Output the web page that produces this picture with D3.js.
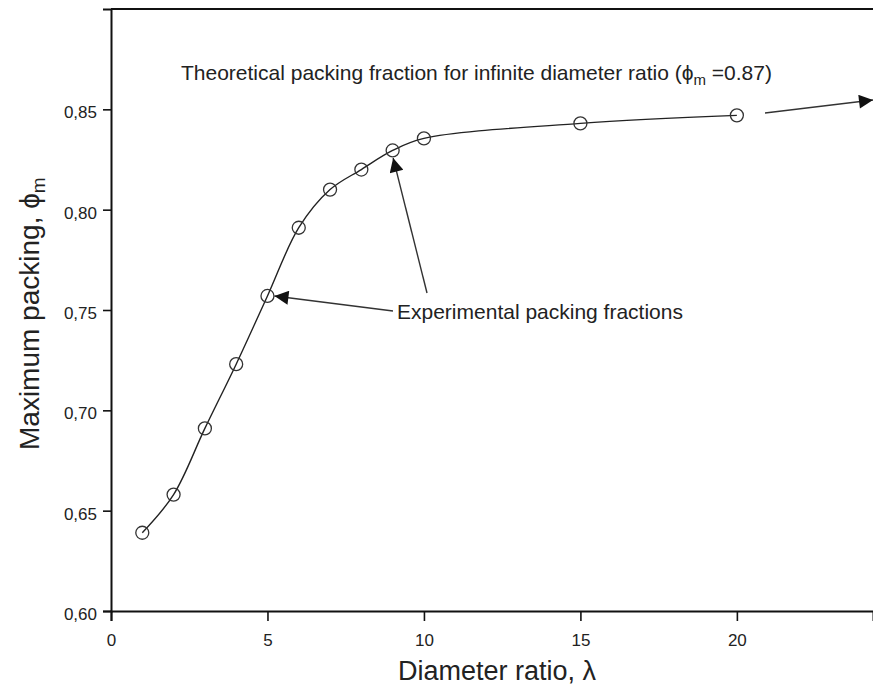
<!DOCTYPE html>
<html>
<head>
<meta charset="utf-8">
<script src="https://cdn.jsdelivr.net/npm/d3@7/dist/d3.min.js"></script>
<style>
  html, body { margin: 0; padding: 0; background: #fff; }
  svg { display: block; }
  text { font-family: "Liberation Sans", Arial, Helvetica, sans-serif; fill: #222; }
</style>
</head>
<body>
<svg id="chart" width="873" height="689"></svg>
<script>
// Diameter ratio (lambda) and measured maximum packing fraction
const ratios = [1, 2, 3, 4, 5, 6, 7, 8, 9, 10, 15, 20];
const packing = [0.639, 0.658, 0.691, 0.723, 0.757, 0.791, 0.810, 0.820, 0.8295, 0.8355, 0.843, 0.847];

const xTicks = [0, 5, 10, 15, 20];
const yTicks = [0.60, 0.65, 0.70, 0.75, 0.80, 0.85];

const svg = d3.select("#chart");
const plotLeft = 111, plotTop = 9, plotBottom = 611, plotRight = 873;

const x = d3.scaleLinear().domain([0, 24.35]).range([plotLeft, plotRight]);
const y = d3.scaleLinear().domain([0.60, 0.90]).range([plotBottom, plotTop]);

const fmt = v => d3.format(".2f")(v).replace(".", ",");

// Axes
const xAxis = svg.append("g")
  .attr("transform", `translate(0,${plotBottom})`)
  .call(d3.axisBottom(x).tickValues(xTicks).tickSize(10).tickPadding(13).tickFormat(d3.format("d")));
const yAxis = svg.append("g")
  .attr("transform", `translate(${plotLeft},0)`)
  .call(d3.axisLeft(y).tickValues(yTicks).tickSize(8).tickPadding(6).tickFormat(fmt));

[xAxis, yAxis].forEach(g => {
  g.select(".domain").attr("stroke", "#111").attr("stroke-width", 2);
  g.selectAll(".tick line").attr("stroke", "#111").attr("stroke-width", 1.6);
  g.selectAll(".tick text").style("font-size", "17px").attr("fill", "#333")
    .style("font-family", '"Liberation Sans", Arial, sans-serif');
});
yAxis.selectAll(".tick text").attr("dy", "0.5em");

// Top frame line
svg.append("line")
  .attr("x1", plotLeft).attr("x2", plotRight).attr("y1", plotTop).attr("y2", plotTop)
  .attr("stroke", "#111").attr("stroke-width", 2);

// Axis titles
svg.append("text")
  .attr("x", 398).attr("y", 680)
  .attr("text-anchor", "start")
  .style("font-size", "27px")
  .text("Diameter ratio, λ");

const yTitle = svg.append("text")
  .attr("transform", "translate(39,450) rotate(-90)")
  .attr("text-anchor", "start")
  .style("font-size", "28px");
yTitle.append("tspan").text("Maximum packing, ϕ");
yTitle.append("tspan").attr("dy", 6).style("font-size", "19px").text("m");

// Fitted curve through the measurements
const pts = ratios.map((r, i) => [r, packing[i]]);
const line = d3.line()
  .x(d => x(d[0])).y(d => y(d[1]))
  .curve(d3.curveCatmullRom.alpha(0.5));
svg.append("path")
  .datum(pts)
  .attr("d", line)
  .attr("fill", "none")
  .attr("stroke", "#222")
  .attr("stroke-width", 1.4);

// Measured points
svg.append("g").selectAll("circle")
  .data(pts)
  .join("circle")
  .attr("cx", d => x(d[0])).attr("cy", d => y(d[1]))
  .attr("r", 6.5)
  .attr("fill", "none")
  .attr("stroke", "#333")
  .attr("stroke-width", 1.3);

// Arrowhead marker
svg.append("defs").append("marker")
  .attr("id", "head")
  .attr("viewBox", "0 0 10 10")
  .attr("refX", 10).attr("refY", 5)
  .attr("markerUnits", "userSpaceOnUse")
  .attr("markerWidth", 24).attr("markerHeight", 14)
  .attr("orient", "auto")
  .append("path")
  .attr("d", "M0,0 L10,5 L0,10 Z")
  .attr("fill", "#111");

function arrow(x1, y1, x2, y2) {
  svg.append("line")
    .attr("x1", x1).attr("y1", y1).attr("x2", x2).attr("y2", y2)
    .attr("stroke", "#333").attr("stroke-width", 1.4)
    .attr("marker-end", "url(#head)");
}

// Annotations
const theo = svg.append("text")
  .attr("x", 181).attr("y", 80)
  .style("font-size", "21px");
theo.append("tspan").text("Theoretical packing fraction for infinite diameter ratio (ϕ");
theo.append("tspan").attr("dy", 5).style("font-size", "15px").text("m");
theo.append("tspan").attr("dy", -5).text(" =0.87)");

arrow(765, 113, 873, 100);

svg.append("text")
  .attr("x", 397).attr("y", 319)
  .style("font-size", "21px")
  .text("Experimental packing fractions");

arrow(393, 311, x(5) + 7, y(0.757));
arrow(427, 293, x(9) + 0.5, y(0.8295) + 7.5);
</script>
</body>
</html>
